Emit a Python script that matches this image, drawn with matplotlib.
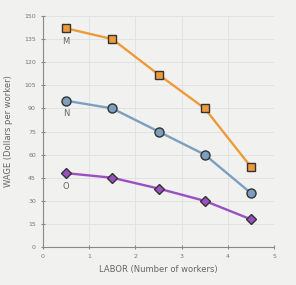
import matplotlib.pyplot as plt
import numpy as np

# datos
labor = [0.5, 1.5, 2.5, 3.5, 4.5]
wage_m = [142, 135, 112, 90, 52]
wage_n = [95, 90, 75, 60, 35]
wage_o = [48, 45, 38, 30, 18]
curve_labels = ["M", "N", "O"]

fig = plt.figure(figsize=(2.96, 2.85), dpi=100, facecolor="#f1f1ef")
ax = fig.add_axes([0.145, 0.133, 0.781, 0.811], facecolor="#f1f1ef")

series = [
    (wage_m, "#ee9a3a", "s", 6),
    (wage_n, "#7d9fbf", "o", 6.5),
    (wage_o, "#9b4fc0", "D", 5.5),
]
for (vals, col, mk, ms), lab in zip(series, curve_labels):
    ax.plot(labor, vals, color=col, lw=1.7, marker=mk, ms=ms,
            mfc=col, mec="#333333", mew=1, zorder=3)
    ax.annotate(lab, (labor[0], vals[0]), xytext=(0, -9.5),
                textcoords="offset points", ha="center", va="center",
                fontsize=6, color="#666666")

ax.set_xlim(0, 5)
ax.set_ylim(0, 150)
ax.set_xticks(np.arange(0, 6, 1))
ax.set_yticks(np.arange(0, 151, 15))
ax.grid(True, color="#e0e0e0", lw=0.6)
ax.set_axisbelow(True)
for s in ["top", "right"]:
    ax.spines[s].set_visible(False)
for s in ["left", "bottom"]:
    ax.spines[s].set_color("#888888")
ax.tick_params(labelsize=4.5, colors="#888888", labelcolor="#777777",
               length=3, direction="inout")
ax.set_xlabel("LABOR (Number of workers)", fontsize=6, color="#666666")
ax.set_ylabel("WAGE (Dollars per worker)", fontsize=6, color="#666666",
              labelpad=8)

fig.savefig("out.png", dpi=100, facecolor=fig.get_facecolor())
